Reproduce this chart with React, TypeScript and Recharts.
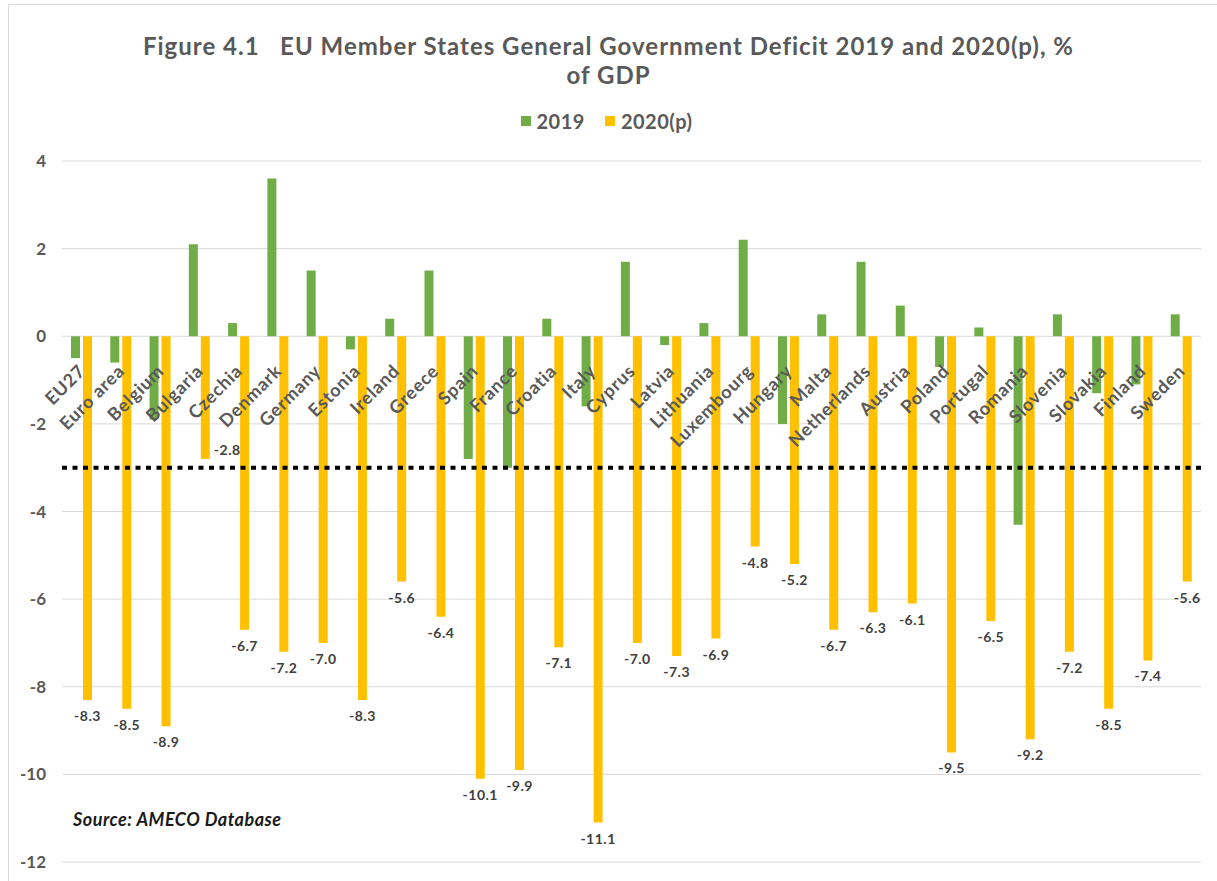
import React from "react";
import {
  BarChart,
  Bar,
  XAxis,
  YAxis,
  CartesianGrid,
  ReferenceLine,
  LabelList,
} from "recharts";

const countries = [
  "EU27", "Euro area", "Belgium", "Bulgaria", "Czechia", "Denmark", "Germany",
  "Estonia", "Ireland", "Greece", "Spain", "France", "Croatia", "Italy",
  "Cyprus", "Latvia", "Lithuania", "Luxembourg", "Hungary", "Malta",
  "Netherlands", "Austria", "Poland", "Portugal", "Romania", "Slovenia",
  "Slovakia", "Finland", "Sweden",
];

const balance2019 = [
  -0.5, -0.6, -1.9, 2.1, 0.3, 3.6, 1.5, -0.3, 0.4, 1.5, -2.8, -3.0, 0.4, -1.6,
  1.7, -0.2, 0.3, 2.2, -2.0, 0.5, 1.7, 0.7, -0.7, 0.2, -4.3, 0.5, -1.3, -1.1,
  0.5,
];

const balance2020 = [
  -8.3, -8.5, -8.9, -2.8, -6.7, -7.2, -7.0, -8.3, -5.6, -6.4, -10.1, -9.9,
  -7.1, -11.1, -7.0, -7.3, -6.9, -4.8, -5.2, -6.7, -6.3, -6.1, -9.5, -6.5,
  -9.2, -7.2, -8.5, -7.4, -5.6,
];

const yTicks = [-12, -10, -8, -6, -4, -2, 0, 2, 4];
const deficitLimit = -3;

const GREEN = "#70AD47";
const AMBER = "#FFC000";
const GREY_TEXT = "#595959";
const FONT = "Lato, 'Open Sans', sans-serif";
const BAR_SIZE = 9;
const BAR_GAP = 3;

const chartData = countries.map((name, i) => ({
  name,
  y2019: balance2019[i],
  y2020: balance2020[i],
}));

// country name, rotated, hanging just under the zero line
function CountryLabel(props: any) {
  const { x, y, height, index } = props;
  const zero = Math.min(y, y + height);
  const cx = x - BAR_GAP / 2;
  const ax = cx + 5;
  const ay = zero + 36;
  return (
    <text
      x={ax}
      y={ay}
      transform={`rotate(-45 ${ax} ${ay})`}
      textAnchor="end"
      fontFamily={FONT}
      fontWeight={700}
      fontSize={18}
      letterSpacing={0.8}
      fill={GREY_TEXT}
    >
      {countries[index]}
    </text>
  );
}

// 2020 value under the bar end; moved aside when it would sit on the 3% line
function ValueLabel(props: any) {
  const { x, y, width, height, value } = props;
  const end = Math.max(y, y + height);
  const aside = value > deficitLimit - 0.5;
  const text = Number(value).toFixed(1);
  const common = {
    fontFamily: FONT,
    fontWeight: 700,
    fontSize: 14,
    letterSpacing: 0.5,
    fill: "#404040",
  };
  if (aside) {
    return (
      <text x={x + width + 4} y={end - 4} textAnchor="start" {...common}>
        {text}
      </text>
    );
  }
  return (
    <text x={x + width / 2} y={end + 21} textAnchor="middle" {...common}>
      {text}
    </text>
  );
}

function LegendItem({ color, label }: { color: string; label: string }) {
  return (
    <span style={{ display: "inline-flex", alignItems: "center", marginRight: 20 }}>
      <span style={{ width: 10, height: 10, background: color, marginRight: 6 }} />
      <span>{label}</span>
    </span>
  );
}

export default function App() {
  return (
    <div
      style={{
        position: "absolute",
        left: 0,
        top: 0,
        width: 1217,
        height: 881,
        background: "#fff",
        overflow: "hidden",
        fontFamily: FONT,
      }}
    >
      <div
        style={{
          position: "absolute",
          left: 8,
          top: 4,
          width: 1240,
          height: 900,
          border: "1px solid #d9d9d9",
        }}
      />
      <div
        style={{
          position: "absolute",
          left: 0,
          top: 31,
          width: 1217,
          textAlign: "center",
          fontSize: 24,
          fontWeight: 700,
          letterSpacing: 1,
          color: GREY_TEXT,
          lineHeight: "29px",
        }}
      >
        <div>Figure 4.1&nbsp;&nbsp; EU Member States General Government Deficit 2019 and 2020(p), %</div>
        <div>of GDP</div>
      </div>
      <div
        style={{
          position: "absolute",
          left: 8,
          top: 106,
          width: 1217,
          textAlign: "center",
          fontSize: 20,
          fontWeight: 700,
          letterSpacing: 0.5,
          color: GREY_TEXT,
        }}
      >
        <LegendItem color={GREEN} label="2019" />
        <LegendItem color={AMBER} label="2020(p)" />
      </div>
      <div
        style={{
          position: "absolute",
          left: 73,
          top: 808,
          fontSize: 18,
          fontWeight: 700,
          fontStyle: "italic",
          letterSpacing: 0.5,
          color: "#1a1a1a",
        }}
      >
        Source: AMECO Database
      </div>
      <div style={{ position: "absolute", left: 0, top: 0 }}>
        <BarChart
          width={1217}
          height={881}
          data={chartData}
          margin={{ top: 161, right: 16, bottom: 19, left: 2 }}
          barGap={BAR_GAP}
        >
          <CartesianGrid vertical={false} stroke="#d9d9d9" />
          <XAxis dataKey="name" hide />
          <YAxis
            width={60}
            domain={[-12, 4]}
            ticks={yTicks}
            axisLine={false}
            tickLine={false}
            tickMargin={10}
            tick={{ fontSize: 17, fontWeight: 700, fill: GREY_TEXT, fontFamily: FONT }}
          />
          <Bar dataKey="y2019" fill={GREEN} barSize={BAR_SIZE} isAnimationActive={false} />
          <Bar dataKey="y2020" fill={AMBER} barSize={BAR_SIZE} isAnimationActive={false}>
            <LabelList dataKey="y2020" content={<ValueLabel />} />
            <LabelList dataKey="name" content={<CountryLabel />} />
          </Bar>
          <ReferenceLine
            y={deficitLimit}
            stroke="#000"
            strokeWidth={4}
            strokeDasharray="5 5.5"
          />
        </BarChart>
      </div>
    </div>
  );
}
